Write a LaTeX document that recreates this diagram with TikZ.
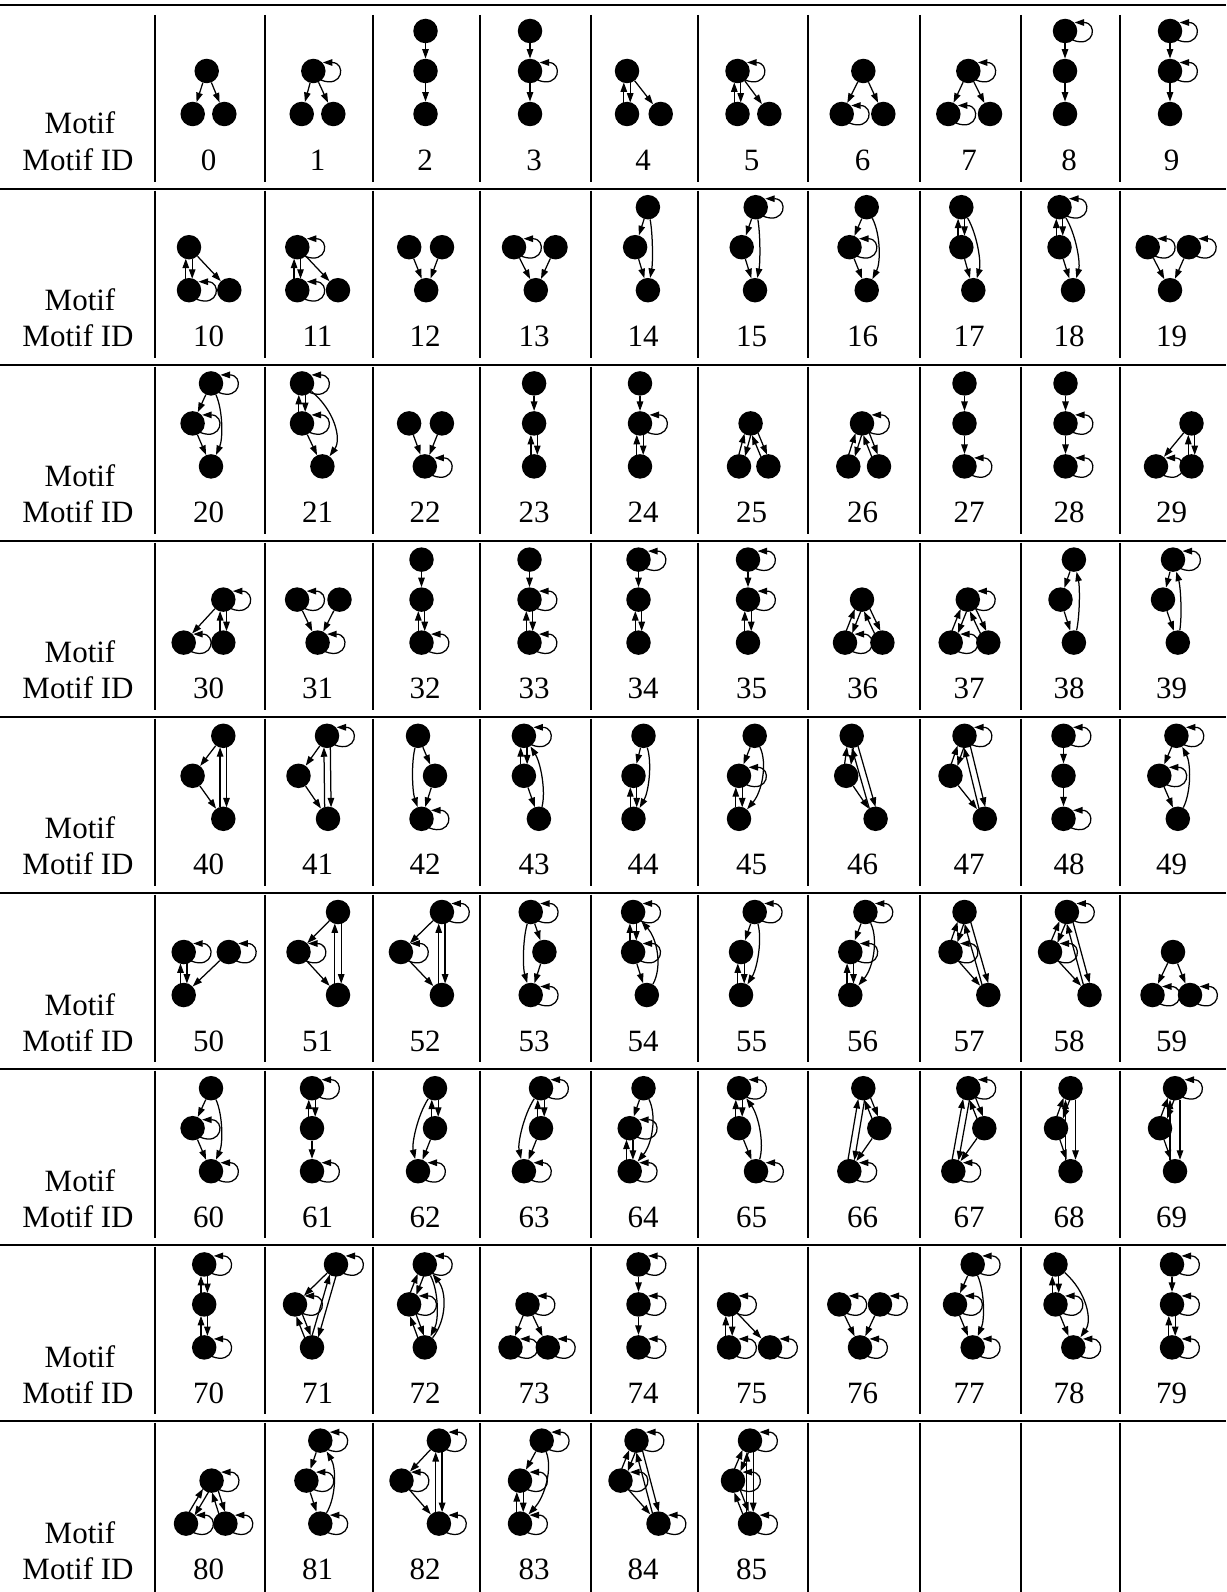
\documentclass[tikz,border=0pt]{standalone}
\usepackage{fontspec}
\setmainfont{Liberation Serif}
\usetikzlibrary{calc,arrows.meta}
\newcommand\LA{129}
\newcommand\LB{89}
\newcommand\LC{46}
\newcommand\Mo[1]{%
  \def\I{#1}%
  \pgfmathtruncatemacro\rowi{#1/10}%
  \pgfmathtruncatemacro\coli{#1-10*\rowi}%
  \edef\X{\ifcase\numexpr\coli\relax 210\or 319\or 426.5\or 535.5\or 644.5\or 753\or 864\or 970.5\or 1070.5\or 1173\fi}%
  \pgfmathsetmacro\Y{160+176.2*\rowi}%
  \node[num] (id#1) at ({\X-1.5},{\Y+10}) {#1};}
\newcommand\Vt[3]{\node[vtx] (m\I#1) at ({\X+(#2)},{\Y-(#3)}) {};}
\newcommand\Ea[2]{\draw[arr] (m\I#1) -- (m\I#2);}
\newcommand\Lo[1]{\draw[arr] ($(m\I#1)+(7.5,9)$) .. controls ($(m\I#1)+(30,18)$) and ($(m\I#1)+(33,-8.5)$) .. ($(m\I#1)+(9.5,-8.5)$);}
\newcommand\Rs[3]{%
  \draw[arr,shorten <=11.4pt,shorten >=11.4pt] ($(m\I#1)!#3pt!90:(m\I#2)$) -- ($(m\I#2)!#3pt!-90:(m\I#1)$);
  \draw[arr,shorten <=11.4pt,shorten >=11.4pt] ($(m\I#2)!#3pt!90:(m\I#1)$) -- ($(m\I#1)!#3pt!-90:(m\I#2)$);}
\newcommand\Rp[2]{\Rs{#1}{#2}{3.2}}
\newcommand\Cu[3]{\draw[arr] (m\I#1) .. controls ($(m\I#1)!0.33!(m\I#2)+(#3,0)$) and ($(m\I#1)!0.67!(m\I#2)+(#3,0)$) .. (m\I#2);}
\begin{document}
\begin{tikzpicture}[x=1pt,y=-1pt,
  vtx/.style={circle,fill=black,inner sep=0pt,minimum size=24.5pt},
  arr/.style={line width=1.25pt,-{Triangle[length=9.5pt,width=6.5pt]}},
  num/.style={anchor=base,inner sep=0pt,font=\fontsize{31}{36}\selectfont},
  hrule/.style={line width=2.2pt},
  vrule/.style={line width=2pt}]
\useasboundingbox (0,0) rectangle (1226,1592);
% table rules
\foreach \y in {5,189,365,541,717,893,1069,1245,1421} \draw[hrule] (0,\y) -- (1226,\y);
\foreach \x in {155,265,373,480,591,698,808,920,1021,1120} {
  \foreach \t/\b in {15/182,190.5/358,366.5/534,542.5/710,718.5/886,894.5/1062,1070.5/1238,1246.5/1414,1422.5/1592}
    \draw[vrule] (\x,\t) -- (\x,\b);
}
% header column
\foreach \r in {0,...,8} {
  \pgfmathsetmacro\ty{160+176.2*\r}
  \node[num] (hm\r) at (80,{\ty-26}) {Motif};
  \node[num] (hi\r) at (78,{\ty+10}) {Motif ID};
}
% row 1
\Mo{0}\Vt a{-3.3}\LB\Vt b{-17.3}\LC\Vt c{14.3}\LC\Ea ab\Ea ac
\Mo{1}\Vt a{-5.7}\LB\Vt b{-17.3}\LC\Vt c{14.3}\LC\Lo a\Ea ab\Ea ac
\Mo{2}\Vt a{-1}\LA\Vt b{-1}\LB\Vt c{-1}\LC\Ea ab\Ea bc
\Mo{3}\Vt a{-5.5}\LA\Vt b{-5.5}\LB\Vt c{-5.5}\LC\Lo b\Ea ab\Ea bc
\Mo{4}\Vt a{-17.5}\LB\Vt b{-17.5}\LC\Vt c{16.2}\LC\Rp ab\Ea ac
\Mo{5}\Vt a{-15.5}\LB\Vt b{-15.5}\LC\Vt c{16.3}\LC\Lo a\Rp ab\Ea ac
\Mo{6}\Vt a{-0.7}\LB\Vt b{-22.3}\LC\Vt c{19.3}\LC\Lo b\Ea ab\Ea ac
\Mo{7}\Vt a{-2.2}\LB\Vt b{-22.2}\LC\Vt c{19.5}\LC\Lo a\Lo b\Ea ab\Ea ac
\Mo{8}\Vt a{-5.5}\LA\Vt b{-5.5}\LB\Vt c{-5.5}\LC\Lo a\Ea ab\Ea bc
\Mo{9}\Vt a{-3}\LA\Vt b{-3}\LB\Vt c{-3}\LC\Lo a\Lo b\Ea ab\Ea bc
% row 2
\Mo{10}\Vt a{-21}\LB\Vt b{-21}\LC\Vt c{19.3}\LC\Lo b\Rp ab\Ea ac
\Mo{11}\Vt a{-21.7}\LB\Vt b{-21.7}\LC\Vt c{19}\LC\Lo a\Lo b\Rp ab\Ea ac
\Mo{12}\Vt a{-17.3}\LB\Vt b{15.5}\LB\Vt c{-0.3}\LC\Ea ac\Ea bc
\Mo{13}\Vt a{-21.5}\LB\Vt b{20}\LB\Vt c{0.3}\LC\Lo a\Ea ac\Ea bc
\Mo{14}\Vt a{3.4}\LA\Vt b{-9.4}\LB\Vt c{3.4}\LC\Ea ab\Ea bc\Cu ac{5}
\Mo{15}\Vt a{2.7}\LA\Vt b{-11.3}\LB\Vt c{2}\LC\Lo a\Ea ab\Ea bc\Cu ac{5}
\Mo{16}\Vt a{2.7}\LA\Vt b{-14.5}\LB\Vt c{2.7}\LC\Lo b\Ea ab\Ea bc\Cu ac{14}
\Mo{17}\Vt a{-9.2}\LA\Vt b{-9.2}\LB\Vt c{2.8}\LC\Rp ab\Ea bc\Cu ac{12}
\Mo{18}\Vt a{-11}\LA\Vt b{-11}\LB\Vt c{2.5}\LC\Lo a\Rp ab\Ea bc\Cu ac{12}
\Mo{19}\Vt a{-25.3}\LB\Vt b{15.8}\LB\Vt c{-3}\LC\Lo a\Lo b\Ea ac\Ea bc
% row 3
\Mo{20}\Vt a{1}\LA\Vt b{-17.4}\LB\Vt c{1}\LC\Lo a\Lo b\Ea ab\Ea bc\Cu ac{12}
\Mo{21}\Vt a{-17}\LA\Vt b{-17}\LB\Vt c{3.4}\LC\Lo a\Lo b\Rp ab\Ea bc\Cu ac{26}
\Mo{22}\Vt a{-17.4}\LB\Vt b{15.4}\LB\Vt c{-1.7}\LC\Lo c\Ea ac\Ea bc
\Mo{23}\Vt a{-1.4}\LA\Vt b{-1.4}\LB\Vt c{-1.4}\LC\Ea ab\Rp bc
\Mo{24}\Vt a{-4.5}\LA\Vt b{-4.5}\LB\Vt c{-4.5}\LC\Lo b\Ea ab\Rp bc
\Mo{25}\Vt a{-2.4}\LB\Vt b{-14}\LC\Vt c{15.4}\LC\Rp ab\Rp ac
\Mo{26}\Vt a{-2}\LB\Vt b{-15.7}\LC\Vt c{15}\LC\Lo a\Rp ab\Rp ac
\Mo{27}\Vt a{-6}\LA\Vt b{-6}\LB\Vt c{-6}\LC\Lo c\Ea ab\Ea bc
\Mo{28}\Vt a{-5}\LA\Vt b{-5}\LB\Vt c{-5}\LC\Lo b\Lo c\Ea ab\Ea bc
\Mo{29}\Vt a{18.5}\LB\Vt b{-17}\LC\Vt c{18.5}\LC\Lo b\Ea ab\Rp ac
% row 4
\Mo{30}\Vt a{13.3}\LB\Vt b{-26.3}\LC\Vt c{13.3}\LC\Lo a\Lo b\Ea ab\Rp ac
\Mo{31}\Vt a{-21.9}\LB\Vt b{20.5}\LB\Vt c{-1.4}\LC\Lo a\Lo c\Ea ac\Ea bc
\Mo{32}\Vt a{-5}\LA\Vt b{-5}\LB\Vt c{-5}\LC\Lo c\Ea ab\Rp bc
\Mo{33}\Vt a{-6}\LA\Vt b{-6}\LB\Vt c{-6}\LC\Lo b\Lo c\Ea ab\Rp bc
\Mo{34}\Vt a{-6}\LA\Vt b{-6}\LB\Vt c{-6}\LC\Lo a\Ea ab\Rp bc
\Mo{35}\Vt a{-5}\LA\Vt b{-5}\LB\Vt c{-5}\LC\Lo a\Lo b\Ea ab\Rp bc
\Mo{36}\Vt a{-2}\LB\Vt b{-19}\LC\Vt c{18.4}\LC\Lo b\Rp ab\Rp ac
\Mo{37}\Vt a{-2.7}\LB\Vt b{-19.8}\LC\Vt c{17.8}\LC\Lo a\Lo b\Rp ab\Rp ac
\Mo{38}\Vt a{3.4}\LA\Vt b{-10}\LB\Vt c{3.4}\LC\Ea ab\Ea bc\Cu ca{6}
\Mo{39}\Vt a{0}\LA\Vt b{-10}\LB\Vt c{4.8}\LC\Lo a\Ea ab\Ea bc\Cu ca{6}
% row 5
\Mo{40}\Vt a{13.3}\LA\Vt b{-17.4}\LB\Vt c{13.3}\LC\Ea ab\Ea bc\Rp ac
\Mo{41}\Vt a{8}\LA\Vt b{-20.5}\LB\Vt c{9}\LC\Lo a\Ea ab\Ea bc\Rp ac
\Mo{42}\Vt a{-8.5}\LA\Vt b{8.5}\LB\Vt c{-5}\LC\Lo c\Ea ab\Ea bc\Cu ac{-8}
\Mo{43}\Vt a{-11.6}\LA\Vt b{-11.6}\LB\Vt c{3.4}\LC\Lo a\Rp ab\Ea bc\Cu ca{12}
\Mo{44}\Vt a{-1}\LA\Vt b{-11}\LB\Vt c{-11}\LC\Ea ab\Rp bc\Cu ac{12}
\Mo{45}\Vt a{1.7}\LA\Vt b{-14}\LB\Vt c{-14}\LC\Lo b\Ea ab\Rp bc\Cu ac{18}
\Mo{46}\Vt a{-12.3}\LA\Vt b{-17.8}\LB\Vt c{11.6}\LC\Rp ab\Rp ac\Ea bc
\Mo{47}\Vt a{-6}\LA\Vt b{-20}\LB\Vt c{14.3}\LC\Lo a\Rp ab\Rp ac\Ea bc
\Mo{48}\Vt a{-7}\LA\Vt b{-7}\LB\Vt c{-7}\LC\Lo a\Lo c\Ea ab\Ea bc
\Mo{49}\Vt a{3.4}\LA\Vt b{-13.7}\LB\Vt c{4.8}\LC\Lo a\Lo b\Ea ab\Ea bc\Cu ca{14}
% row 6
\Mo{50}\Vt a{-26.3}\LB\Vt b{18.8}\LB\Vt c{-26.3}\LC\Lo a\Lo b\Rp ac\Ea bc
\Mo{51}\Vt a{19}\LA\Vt b{-20.5}\LB\Vt c{19}\LC\Lo b\Ea ab\Ea bc\Rp ac
\Mo{52}\Vt a{15.4}\LA\Vt b{-25.6}\LB\Vt c{15.4}\LC\Lo a\Lo b\Ea ab\Ea bc\Rp ac
\Mo{53}\Vt a{-4.8}\LA\Vt b{8.9}\LB\Vt c{-4.8}\LC\Lo a\Lo c\Ea ab\Ea bc\Cu ac{-8}
\Mo{54}\Vt a{-11.4}\LA\Vt b{-11.4}\LB\Vt c{2.3}\LC\Lo a\Lo b\Rp ab\Ea bc\Cu ca{20}
\Mo{55}\Vt a{1.7}\LA\Vt b{-12}\LB\Vt c{-12}\LC\Lo a\Ea ab\Rp bc\Cu ac{12}
\Mo{56}\Vt a{1.4}\LA\Vt b{-13.7}\LB\Vt c{-13.7}\LC\Lo a\Lo b\Ea ab\Rp bc\Cu ac{18}
\Mo{57}\Vt a{-6}\LA\Vt b{-20}\LB\Vt c{17.8}\LC\Lo b\Rp ab\Rp ac\Ea bc
\Mo{58}\Vt a{-3.6}\LA\Vt b{-20.5}\LB\Vt c{19}\LC\Lo a\Lo b\Rp ab\Rp ac\Ea bc
\Mo{59}\Vt a{0}\LB\Vt b{-20.5}\LC\Vt c{17}\LC\Lo b\Lo c\Ea ab\Ea ac
% row 7
\Mo{60}\Vt a{1}\LA\Vt b{-17.4}\LB\Vt c{1}\LC\Lo b\Lo c\Ea ab\Ea bc\Cu ac{12}
\Mo{61}\Vt a{-7}\LA\Vt b{-7}\LB\Vt c{-7}\LC\Lo a\Lo c\Rp ab\Ea bc
\Mo{62}\Vt a{8.5}\LA\Vt b{8.5}\LB\Vt c{-8.5}\LC\Lo c\Rp ab\Ea bc\Cu ac{-12}
\Mo{63}\Vt a{5.5}\LA\Vt b{5.5}\LB\Vt c{-11.6}\LC\Lo a\Lo c\Rp ab\Ea bc\Cu ac{-12}
\Mo{64}\Vt a{-1}\LA\Vt b{-14.8}\LB\Vt c{-14.8}\LC\Lo b\Lo c\Ea ab\Rp bc\Cu ac{18}
\Mo{65}\Vt a{-14}\LA\Vt b{-14}\LB\Vt c{3}\LC\Lo a\Lo c\Rp ab\Ea bc\Cu ca{14}
\Mo{66}\Vt a{-0.7}\LA\Vt b{15.3}\LB\Vt c{-14.7}\LC\Lo c\Rp ab\Rp ac\Ea bc
\Mo{67}\Vt a{-2.2}\LA\Vt b{13.8}\LB\Vt c{-17.2}\LC\Lo a\Lo c\Rp ab\Rp ac\Ea bc
\Mo{68}\Vt a{0}\LA\Vt b{-14.5}\LB\Vt c{0}\LC\Rp ab\Ea bc\Rs ac{5}
\Mo{69}\Vt a{2}\LA\Vt b{-13}\LB\Vt c{2}\LC\Lo a\Rp ab\Ea bc\Rs ac{5}
% row 8
\Mo{70}\Vt a{-5.8}\LA\Vt b{-5.8}\LB\Vt c{-5.8}\LC\Lo a\Lo c\Rp ab\Rp bc
\Mo{71}\Vt a{17}\LA\Vt b{-24}\LB\Vt c{-7}\LC\Lo a\Lo b\Ea ab\Rp bc\Rp ac
\Mo{72}\Vt a{-1.7}\LA\Vt b{-17.4}\LB\Vt c{-1.7}\LC\Lo a\Lo b\Rp ab\Rp bc\Cu ac{14}\Cu ca{22}
\Mo{73}\Vt a{-8}\LB\Vt b{-25}\LC\Vt c{12.3}\LC\Lo a\Lo b\Lo c\Ea ab\Ea ac
\Mo{74}\Vt a{-6}\LA\Vt b{-6}\LB\Vt c{-6}\LC\Lo a\Lo b\Lo c\Ea ab\Ea bc
\Mo{75}\Vt a{-24}\LB\Vt b{-24}\LC\Vt c{17}\LC\Lo a\Lo b\Lo c\Rp ab\Ea ac
\Mo{76}\Vt a{-24.7}\LB\Vt b{16}\LB\Vt c{-4}\LC\Lo a\Lo b\Lo c\Ea ac\Ea bc
\Mo{77}\Vt a{2.2}\LA\Vt b{-15.5}\LB\Vt c{2.2}\LC\Lo a\Lo b\Lo c\Ea ab\Ea bc\Cu ac{12}
\Mo{78}\Vt a{-15}\LA\Vt b{-15}\LB\Vt c{2.8}\LC\Lo b\Lo c\Rp ab\Ea bc\Cu ac{25}
\Mo{79}\Vt a{-1}\LA\Vt b{-1}\LB\Vt c{-1}\LC\Lo a\Lo b\Lo c\Ea ab\Rp bc
% row 9
\Mo{80}\Vt a{1.6}\LB\Vt b{-24}\LC\Vt c{15.4}\LC\Lo a\Lo b\Lo c\Rp ab\Rp ac
\Mo{81}\Vt a{1.3}\LA\Vt b{-12.6}\LB\Vt c{1.3}\LC\Lo a\Lo b\Lo c\Ea ab\Ea bc\Cu ca{16}
\Mo{82}\Vt a{12.4}\LA\Vt b{-25}\LB\Vt c{12.4}\LC\Lo a\Lo b\Lo c\Ea ab\Ea bc\Rp ac
\Mo{83}\Vt a{6.2}\LA\Vt b{-15.5}\LB\Vt c{-15.5}\LC\Lo a\Lo b\Lo c\Ea ab\Rp bc\Cu ac{18}
\Mo{84}\Vt a{-8}\LA\Vt b{-24}\LB\Vt c{14}\LC\Lo a\Lo b\Lo c\Rp ab\Rp ac\Ea bc
\Mo{85}\Vt a{-3}\LA\Vt b{-20}\LB\Vt c{-3}\LC\Lo a\Lo b\Lo c\Rp ab\Rp bc\Rp ac
\end{tikzpicture}
\end{document}
